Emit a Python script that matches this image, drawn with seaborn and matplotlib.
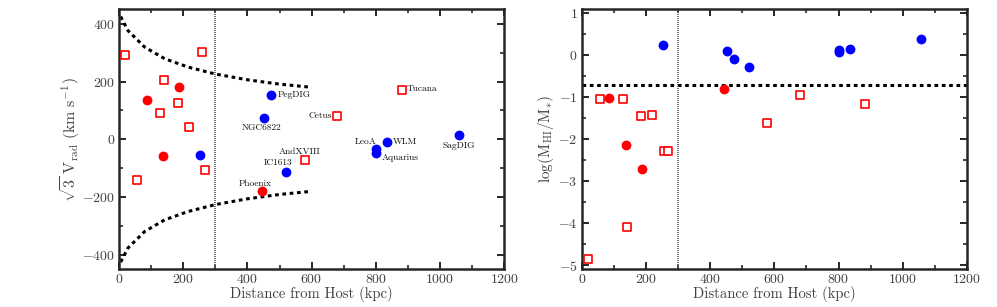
import matplotlib
matplotlib.use('Agg')
import matplotlib.pyplot as plt
import seaborn as sns

# Distances from host (kpc)
sq_dist = [18, 57, 127, 141, 184, 218, 257, 269, 578, 679, 881]
red_dist = [86, 138, 188, 444]
blue_dist = [252, 452, 474, 520, 800, 802, 836, 1058]

# sqrt(3) V_rad (km/s)
sq_vrad = [293, -141, 91, 204, 126, 41, 301, -107, -72, 80, 172]
red_vrad = [137, -57, 180, -178]
blue_vrad = [-55, 75, 154, -112, -47, -32, -10, 14]

# log(M_HI / M_*)
sq_gas = [-4.85, -1.04, -1.04, -4.10, -1.45, -1.42, -2.27, -2.27, -1.61, -0.95, -1.15]
red_gas = [-1.02, -2.13, -2.72, -0.81]
blue_gas = [0.25, 0.11, -0.08, -0.27, 0.07, 0.13, 0.15, 0.40]

# names shown in the left panel
sq_names = ['', '', '', '', '', '', '', '', 'AndXVIII', 'Cetus', 'Tucana']
red_names = ['', '', '', 'Phoenix']
blue_names = ['', 'NGC6822', 'PegDIG', 'IC1613', 'Aquarius', 'LeoA', 'WLM', 'SagDIG']

# escape velocity envelope
curve_dist = [5, 28, 80, 142, 215, 300, 400, 500, 600]
curve_upper = [425, 376, 319, 279, 250, 226, 206, 191, 180]
curve_lower = [-425, -376, -319, -279, -250, -226, -206, -191, -180]

virial_radius = 300
gas_threshold = -0.7

# label offsets (points) and alignment
label_style = {
    'PegDIG': ((5, 0), 'left'),
    'NGC6822': ((-2, -7), 'center'),
    'IC1613': ((-6, 6.5), 'center'),
    'AndXVIII': ((-3.5, 6), 'center'),
    'Phoenix': ((-4.5, 5), 'center'),
    'Cetus': ((-3.5, 0), 'right'),
    'Tucana': ((3.5, 0.5), 'left'),
    'LeoA': ((-7.5, 5), 'center'),
    'WLM': ((4, 0.5), 'left'),
    'Aquarius': ((4, -3.5), 'left'),
    'SagDIG': ((0, -7.5), 'center'),
}

sns.set_style('ticks')
plt.rcParams['font.family'] = 'serif'
plt.rcParams['font.serif'] = ['cmr10', 'DejaVu Serif']
plt.rcParams['mathtext.fontset'] = 'cm'
plt.rcParams['axes.formatter.use_mathtext'] = True
plt.rcParams['axes.unicode_minus'] = True

fig = plt.figure(figsize=(9.97, 3.07), dpi=100)
ax1 = fig.add_axes([0.1194, 0.1228, 0.3863, 0.8469])
ax2 = fig.add_axes([0.5835, 0.1228, 0.3863, 0.8469])

txt_color = '#404040'


def draw_points(ax, ys):
    sq, red, blue = ys
    sns.scatterplot(x=sq_dist, y=sq, ax=ax, marker='s', s=38, facecolor='white',
                    edgecolor='#ff0000', linewidth=1.2, zorder=4)
    sns.scatterplot(x=red_dist, y=red, ax=ax, marker='o', s=50, color='#ff0000',
                    edgecolor='#ff0000', linewidth=0, zorder=4)
    sns.scatterplot(x=blue_dist, y=blue, ax=ax, marker='o', s=50, color='#0000ff',
                    edgecolor='#0000ff', linewidth=0, zorder=4)


def style_axis(ax):
    ax.set_xlim(0, 1200)
    ax.set_xticks(range(0, 1201, 200))
    ax.set_xticks(range(0, 1201, 100), minor=True)
    ax.tick_params(which='both', direction='in', top=True, right=True,
                   labelsize=10, labelcolor=txt_color, pad=3)
    ax.tick_params(which='major', length=5, width=1.4)
    ax.tick_params(which='minor', length=3, width=1.2)
    for sp in ax.spines.values():
        sp.set_linewidth(1.8)
        sp.set_visible(True)
    ax.set_xlabel('Distance from Host (kpc)', fontsize=10.5, color=txt_color, labelpad=0)


# Left panel: radial velocity
draw_points(ax1, (sq_vrad, red_vrad, blue_vrad))
sns.lineplot(x=curve_dist, y=curve_upper, ax=ax1, color='black', linewidth=2.2,
             linestyle=(0, (1.2, 1.2)), sort=False)
sns.lineplot(x=curve_dist, y=curve_lower, ax=ax1, color='black', linewidth=2.2,
             linestyle=(0, (1.2, 1.2)), sort=False)
ax1.axvline(virial_radius, color='#555555', linewidth=1.2, linestyle=(0, (0.6, 0.6)))
ax1.set_ylim(-450, 450)
ax1.set_yticks(range(-400, 401, 200))
ax1.set_yticks(range(-400, 401, 100), minor=True)
ax1.set_ylabel(r'$\sqrt{3}\ {\rm V}_{\rm rad}\ ({\rm km\ s^{-1}})$', fontsize=11.5,
               color=txt_color)
style_axis(ax1)
ax1.yaxis.set_label_coords(-0.097, 0.5)

for xs, ys, names in [(sq_dist, sq_vrad, sq_names), (red_dist, red_vrad, red_names),
                      (blue_dist, blue_vrad, blue_names)]:
    for x, y, n in zip(xs, ys, names):
        if not n:
            continue
        off, ha = label_style[n]
        ax1.annotate(n, (x, y), xytext=off, textcoords='offset points', ha=ha,
                     va='center', fontsize=6.8, color='#111111')

# Right panel: gas fraction
draw_points(ax2, (sq_gas, red_gas, blue_gas))
ax2.axhline(gas_threshold, color='black', linewidth=2.2, linestyle=(0, (1.2, 1.2)))
ax2.axvline(virial_radius, color='#555555', linewidth=1.2, linestyle=(0, (0.6, 0.6)))
ax2.set_ylim(-5.1, 1.1)
ax2.set_yticks(range(-5, 2))
ax2.set_yticks([v / 2 for v in range(-10, 3)], minor=True)
ax2.set_ylabel(r'$\log({\rm M_{HI}}/{\rm M_{*}})$', fontsize=11, color=txt_color)
style_axis(ax2)
ax2.yaxis.set_label_coords(-0.067, 0.5)

fig.savefig('out.png', dpi=100)
